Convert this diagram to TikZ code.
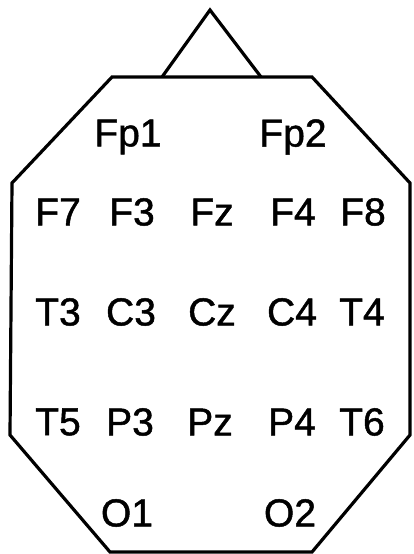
\documentclass[tikz,border=0pt]{standalone}
\usepackage{fontspec}
\setmainfont{Liberation Sans}[FakeBold=1.2]
\begin{document}
\begin{tikzpicture}[x=1pt,y=-1pt,
  outline/.style={draw=black,line width=3.2pt,line join=miter},
  elec/.style={font=\fontsize{39}{41}\selectfont\addfontfeature{FakeBold=1.2},inner sep=0pt,anchor=center}]
\useasboundingbox (0,0) rectangle (414,554);
\draw[outline] (162,77) -- (210,10) -- (261,77);
\draw[outline] (112,77) -- (312,77) -- (410,183) -- (410,435) -- (312,552) -- (110,552) -- (10,435) -- (12,183) -- cycle;
\node[elec] (Fp1) at (128,137) {Fp1};
\node[elec] (Fp2) at (293,137) {Fp2};
\node[elec] (F7) at (58,212) {F7};
\node[elec] (F3) at (132,212) {F3};
\node[elec] (Fz) at (212,212) {Fz};
\node[elec] (F4) at (293,212) {F4};
\node[elec] (F8) at (363,212) {F8};
\node[elec] (T3) at (58,312) {T3};
\node[elec] (C3) at (131,312) {C3};
\node[elec] (Cz) at (212,312) {Cz};
\node[elec] (C4) at (292,312) {C4};
\node[elec] (T4) at (362,312) {T4};
\node[elec] (T5) at (58,422) {T5};
\node[elec] (P3) at (130,422) {P3};
\node[elec] (Pz) at (210,422) {Pz};
\node[elec] (P4) at (292,422) {P4};
\node[elec] (T6) at (362,422) {T6};
\node[elec] (O1) at (127,513) {O1};
\node[elec] (O2) at (290,513) {O2};
\end{tikzpicture}
\end{document}
